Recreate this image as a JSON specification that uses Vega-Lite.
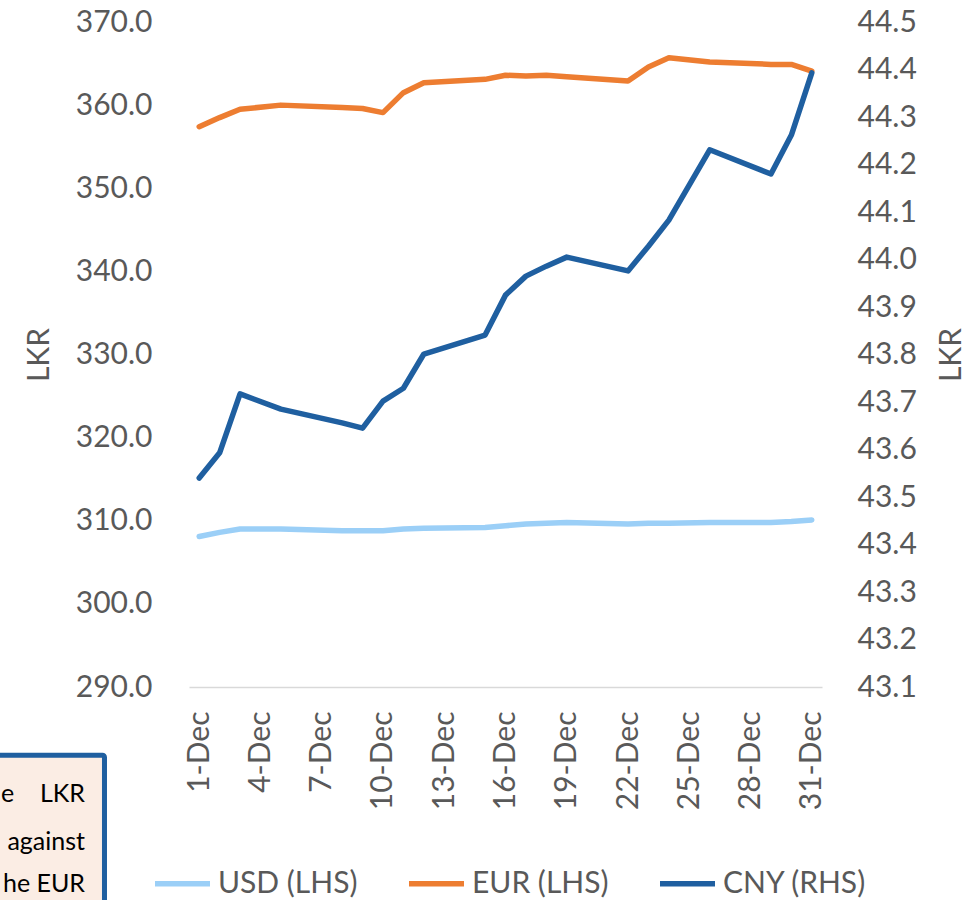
{
  "$schema": "https://vega.github.io/schema/vega-lite/v6.json",
  "width": 633,
  "height": 665,
  "autosize": {"type": "none"},
  "padding": {"left": 189, "top": 22, "right": 158, "bottom": 213},
  "background": "white",
  "config": {
    "font": "Lato",
    "view": {"stroke": null},
    "legend": {
      "orient": "none",
      "legendX": -37,
      "legendY": 831,
      "direction": "horizontal",
      "symbolType": "stroke",
      "symbolSize": 3025,
      "symbolStrokeWidth": 5.5,
      "labelFontSize": 30,
      "labelFont": "Lato",
      "labelColor": "#595959",
      "labelOffset": 5,
      "columnPadding": 40,
      "labelLimit": 400
    }
  },
  "data": {
    "values": [
      {"date": "2025-12-01", "series": "USD (LHS)", "value": 308.1},
      {"date": "2025-12-02", "series": "USD (LHS)", "value": 308.6},
      {"date": "2025-12-03", "series": "USD (LHS)", "value": 309.0},
      {"date": "2025-12-05", "series": "USD (LHS)", "value": 309.0},
      {"date": "2025-12-08", "series": "USD (LHS)", "value": 308.8},
      {"date": "2025-12-09", "series": "USD (LHS)", "value": 308.8},
      {"date": "2025-12-10", "series": "USD (LHS)", "value": 308.8},
      {"date": "2025-12-11", "series": "USD (LHS)", "value": 309.0},
      {"date": "2025-12-12", "series": "USD (LHS)", "value": 309.1},
      {"date": "2025-12-15", "series": "USD (LHS)", "value": 309.2},
      {"date": "2025-12-16", "series": "USD (LHS)", "value": 309.4},
      {"date": "2025-12-17", "series": "USD (LHS)", "value": 309.6},
      {"date": "2025-12-18", "series": "USD (LHS)", "value": 309.7},
      {"date": "2025-12-19", "series": "USD (LHS)", "value": 309.8},
      {"date": "2025-12-22", "series": "USD (LHS)", "value": 309.6},
      {"date": "2025-12-23", "series": "USD (LHS)", "value": 309.7},
      {"date": "2025-12-24", "series": "USD (LHS)", "value": 309.7},
      {"date": "2025-12-26", "series": "USD (LHS)", "value": 309.8},
      {"date": "2025-12-29", "series": "USD (LHS)", "value": 309.8},
      {"date": "2025-12-30", "series": "USD (LHS)", "value": 309.9},
      {"date": "2025-12-31", "series": "USD (LHS)", "value": 310.1},
      {"date": "2025-12-01", "series": "EUR (LHS)", "value": 357.4},
      {"date": "2025-12-02", "series": "EUR (LHS)", "value": 358.5},
      {"date": "2025-12-03", "series": "EUR (LHS)", "value": 359.5},
      {"date": "2025-12-05", "series": "EUR (LHS)", "value": 360.0},
      {"date": "2025-12-08", "series": "EUR (LHS)", "value": 359.7},
      {"date": "2025-12-09", "series": "EUR (LHS)", "value": 359.6},
      {"date": "2025-12-10", "series": "EUR (LHS)", "value": 359.1},
      {"date": "2025-12-11", "series": "EUR (LHS)", "value": 361.5},
      {"date": "2025-12-12", "series": "EUR (LHS)", "value": 362.7},
      {"date": "2025-12-15", "series": "EUR (LHS)", "value": 363.1},
      {"date": "2025-12-16", "series": "EUR (LHS)", "value": 363.6},
      {"date": "2025-12-17", "series": "EUR (LHS)", "value": 363.5},
      {"date": "2025-12-18", "series": "EUR (LHS)", "value": 363.6},
      {"date": "2025-12-19", "series": "EUR (LHS)", "value": 363.4},
      {"date": "2025-12-22", "series": "EUR (LHS)", "value": 362.9},
      {"date": "2025-12-23", "series": "EUR (LHS)", "value": 364.6},
      {"date": "2025-12-24", "series": "EUR (LHS)", "value": 365.7},
      {"date": "2025-12-26", "series": "EUR (LHS)", "value": 365.2},
      {"date": "2025-12-29", "series": "EUR (LHS)", "value": 364.9},
      {"date": "2025-12-30", "series": "EUR (LHS)", "value": 364.9},
      {"date": "2025-12-31", "series": "EUR (LHS)", "value": 364.1},
      {"date": "2025-12-01", "series": "CNY (RHS)", "value": 43.540},
      {"date": "2025-12-02", "series": "CNY (RHS)", "value": 43.593},
      {"date": "2025-12-03", "series": "CNY (RHS)", "value": 43.717},
      {"date": "2025-12-05", "series": "CNY (RHS)", "value": 43.685},
      {"date": "2025-12-08", "series": "CNY (RHS)", "value": 43.656},
      {"date": "2025-12-09", "series": "CNY (RHS)", "value": 43.645},
      {"date": "2025-12-10", "series": "CNY (RHS)", "value": 43.702},
      {"date": "2025-12-11", "series": "CNY (RHS)", "value": 43.729},
      {"date": "2025-12-12", "series": "CNY (RHS)", "value": 43.801},
      {"date": "2025-12-15", "series": "CNY (RHS)", "value": 43.841},
      {"date": "2025-12-16", "series": "CNY (RHS)", "value": 43.925},
      {"date": "2025-12-17", "series": "CNY (RHS)", "value": 43.965},
      {"date": "2025-12-18", "series": "CNY (RHS)", "value": 43.986},
      {"date": "2025-12-19", "series": "CNY (RHS)", "value": 44.005},
      {"date": "2025-12-22", "series": "CNY (RHS)", "value": 43.976},
      {"date": "2025-12-23", "series": "CNY (RHS)", "value": 44.028},
      {"date": "2025-12-24", "series": "CNY (RHS)", "value": 44.083},
      {"date": "2025-12-26", "series": "CNY (RHS)", "value": 44.231},
      {"date": "2025-12-29", "series": "CNY (RHS)", "value": 44.180},
      {"date": "2025-12-30", "series": "CNY (RHS)", "value": 44.262},
      {"date": "2025-12-31", "series": "CNY (RHS)", "value": 44.393}
    ]
  },
  "encoding": {
    "x": {
      "field": "date",
      "type": "temporal",
      "scale": {
        "type": "utc",
        "domain": [
          {"year": 2025, "month": 11, "date": 30, "hours": 12, "utc": true},
          {"year": 2025, "month": 12, "date": 31, "hours": 12, "utc": true}
        ]
      },
      "axis": {
        "title": null,
        "format": "%-d-%b",
        "values": [
          {"year": 2025, "month": 12, "date": 1, "utc": true},
          {"year": 2025, "month": 12, "date": 4, "utc": true},
          {"year": 2025, "month": 12, "date": 7, "utc": true},
          {"year": 2025, "month": 12, "date": 10, "utc": true},
          {"year": 2025, "month": 12, "date": 13, "utc": true},
          {"year": 2025, "month": 12, "date": 16, "utc": true},
          {"year": 2025, "month": 12, "date": 19, "utc": true},
          {"year": 2025, "month": 12, "date": 22, "utc": true},
          {"year": 2025, "month": 12, "date": 25, "utc": true},
          {"year": 2025, "month": 12, "date": 28, "utc": true},
          {"year": 2025, "month": 12, "date": 31, "utc": true}
        ],
        "labelAngle": -90,
        "labelAlign": "right",
        "labelBaseline": "middle",
        "labelFontSize": 30,
        "labelColor": "#595959",
        "labelPadding": 24,
        "labelOverlap": false,
        "labelFlush": false,
        "ticks": false,
        "grid": false,
        "domainColor": "#D9D9D9",
        "domainWidth": 1.5
      }
    }
  },
  "layer": [
    {
      "transform": [{"filter": "datum.series !== 'CNY (RHS)'"}],
      "mark": {"type": "line", "strokeWidth": 5.5, "strokeCap": "round", "strokeJoin": "round"},
      "encoding": {
        "y": {
          "field": "value",
          "type": "quantitative",
          "scale": {"domain": [290, 370], "zero": false, "nice": false},
          "axis": {
            "title": "LKR",
            "titleFontSize": 30,
            "titleFontWeight": "normal",
            "titleColor": "#595959",
            "titlePadding": 21,
            "labelFontSize": 30,
            "labelColor": "#595959",
            "labelPadding": 37,
            "labelFlush": false,
            "labelOverlap": false,
            "format": ".1f",
            "values": [290, 300, 310, 320, 330, 340, 350, 360, 370],
            "ticks": false,
            "domain": false,
            "grid": false
          }
        },
        "color": {
          "field": "series",
          "type": "nominal",
          "title": null,
          "scale": {
            "domain": ["USD (LHS)", "EUR (LHS)", "CNY (RHS)"],
            "range": ["#9BCFF7", "#ED7D31", "#1F5FA0"]
          }
        }
      }
    },
    {
      "transform": [{"filter": "datum.series === 'CNY (RHS)'"}],
      "mark": {"type": "line", "strokeWidth": 5.5, "strokeCap": "round", "strokeJoin": "round"},
      "encoding": {
        "y": {
          "field": "value",
          "type": "quantitative",
          "scale": {"domain": [43.1, 44.5], "zero": false, "nice": false},
          "axis": {
            "orient": "right",
            "title": "LKR",
            "titleAngle": 270,
            "titleFontSize": 30,
            "titleFontWeight": "normal",
            "titleColor": "#595959",
            "titlePadding": 50,
            "labelFontSize": 30,
            "labelColor": "#595959",
            "labelPadding": 35,
            "labelFlush": false,
            "labelOverlap": false,
            "format": ".1f",
            "values": [43.1, 43.2, 43.3, 43.4, 43.5, 43.6, 43.7, 43.8, 43.9, 44.0, 44.1, 44.2, 44.3, 44.4, 44.5],
            "ticks": false,
            "domain": false,
            "grid": false
          }
        },
        "color": {
          "field": "series",
          "type": "nominal",
          "title": null,
          "scale": {
            "domain": ["USD (LHS)", "EUR (LHS)", "CNY (RHS)"],
            "range": ["#9BCFF7", "#ED7D31", "#1F5FA0"]
          }
        }
      }
    },
    {
      "data": {
        "values": [
          {"date": "2025-11-19T00:00:00Z", "date2": "2025-11-26T08:40:00Z", "value": 281.8, "value2": 258.0}
        ]
      },
      "mark": {"type": "rect", "fill": "#FBEDE4", "stroke": "#1F5FA0", "strokeWidth": 5, "cornerRadius": 2},
      "encoding": {
        "x2": {"field": "date2"},
        "y": {"field": "value", "type": "quantitative", "scale": {"domain": [290, 370], "zero": false, "nice": false}, "axis": null},
        "y2": {"field": "value2"}
      }
    },
    {
      "data": {
        "values": [
          {"date": "2025-11-25T09:45:00Z", "value": 276.2, "text": "e\u00a0\u00a0\u00a0 LKR"},
          {"date": "2025-11-25T09:45:00Z", "value": 270.4, "text": "against"},
          {"date": "2025-11-25T09:45:00Z", "value": 265.3, "text": "he EUR"}
        ]
      },
      "mark": {"type": "text", "align": "right", "baseline": "alphabetic", "fontSize": 25, "font": "Lato", "color": "#000000"},
      "encoding": {
        "y": {"field": "value", "type": "quantitative", "scale": {"domain": [290, 370], "zero": false, "nice": false}, "axis": null},
        "text": {"field": "text"}
      }
    }
  ],
  "resolve": {"scale": {"y": "independent"}}
}
